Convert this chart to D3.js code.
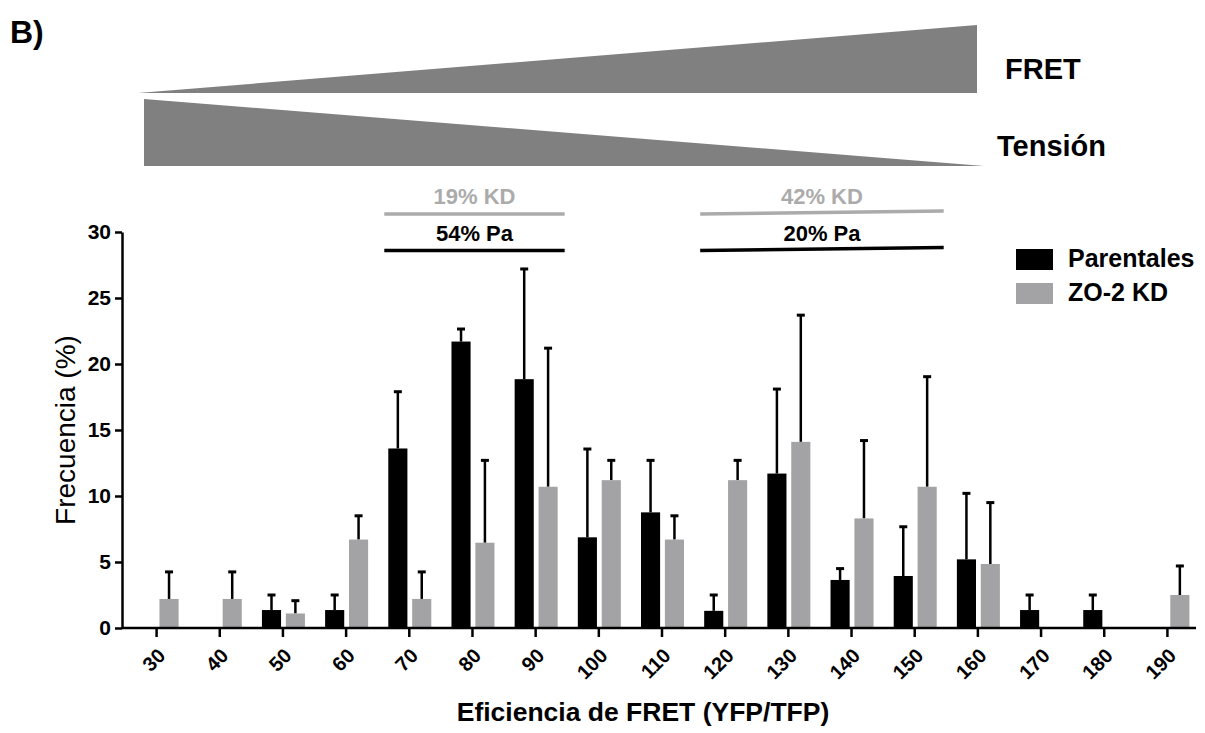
<!DOCTYPE html>
<html>
<head>
<meta charset="utf-8">
<script src="https://cdn.jsdelivr.net/npm/d3@7"></script>
<style>
  body { margin: 0; background: #fff; }
  svg { font-family: "Liberation Sans", Arial, sans-serif; }
</style>
</head>
<body>
<div id="chart"></div>
<script>
// bins of FRET efficiency
const cats = [30, 40, 50, 60, 70, 80, 90, 100, 110, 120, 130, 140, 150, 160, 170, 180, 190];
const series = ["Parentales", "ZO-2 KD"];
// mean frequency (%) and upper error (SEM) per bin
const parentales    = [0, 0, 1.36, 1.36, 13.6, 21.7, 18.85, 6.87, 8.76, 1.3, 11.7, 3.64, 3.94, 5.2, 1.36, 1.36, 0];
const parentalesErr = [0, 0, 1.14, 1.14, 4.3, 0.95, 8.35, 6.69, 3.94, 1.2, 6.4, 0.86, 3.73, 5.0, 1.14, 1.14, 0];
const kd            = [2.2, 2.2, 1.1, 6.7, 2.2, 6.46, 10.7, 11.2, 6.7, 11.2, 14.1, 8.3, 10.7, 4.85, 0, 0, 2.5];
const kdErr         = [2.05, 2.05, 0.97, 1.8, 2.05, 6.24, 10.5, 1.5, 1.8, 1.5, 9.6, 5.9, 8.34, 4.65, 0, 0, 2.2];
const yTicks = [0, 5, 10, 15, 20, 25, 30];
// range annotations: [from bin, to bin, label]
const kdRanges = [[70, 90, "19% KD"], [120, 150, "42% KD"]];
const paRanges = [[70, 90, "54% Pa"], [120, 150, "20% Pa"]];

const W = 1205, H = 733;
const colors = {"Parentales": "#000000", "ZO-2 KD": "#a3a3a6"};

const svg = d3.select("#chart").append("svg")
  .attr("width", W).attr("height", H);

// panel letter
svg.append("text")
  .attr("x", 10).attr("y", 43)
  .style("font-size", "32px").style("font-weight", "bold")
  .text("B)");

// ---- wedges on top ----
svg.append("path")
  .attr("d", "M138,93 L977,25 L977,93 Z")
  .attr("fill", "#808080");
svg.append("path")
  .attr("d", "M144,99 L984,166 L144,166 Z")
  .attr("fill", "#808080");
svg.append("text")
  .attr("x", 1005).attr("y", 79)
  .style("font-size", "29px").style("font-weight", "bold")
  .text("FRET");
svg.append("text")
  .attr("x", 997).attr("y", 156)
  .style("font-size", "29px").style("font-weight", "bold")
  .text("Tensión");

// ---- scales ----
const x = d3.scaleBand()
  .domain(cats)
  .range([125, 1199]);

const x1 = d3.scaleBand()
  .domain(series)
  .range([-21, 22])
  .paddingInner(0.2);

const y = d3.scaleLinear()
  .domain([0, 30])
  .range([628, 232]);

const xc = d => x(d) + x.bandwidth() / 2;
const x0 = 122;

// ---- bars ----
const rows = [];
cats.forEach((c, i) => {
  rows.push({cat: c, s: "Parentales", v: parentales[i], e: parentalesErr[i]});
  rows.push({cat: c, s: "ZO-2 KD", v: kd[i], e: kdErr[i]});
});

// error bars (drawn before the bars so the stem hides inside)
const errs = svg.append("g")
  .selectAll("g")
  .data(rows.filter(d => d.v > 0 && d.e > 0))
  .join("g");
errs.append("line")
  .attr("x1", d => xc(d.cat) + x1(d.s) + x1.bandwidth() / 2)
  .attr("x2", d => xc(d.cat) + x1(d.s) + x1.bandwidth() / 2)
  .attr("y1", d => y(d.v))
  .attr("y2", d => y(d.v + d.e))
  .attr("stroke", "#000")
  .attr("stroke-width", 2.5);
errs.append("line")
  .attr("x1", d => xc(d.cat) + x1(d.s) + x1.bandwidth() / 2 - 4)
  .attr("x2", d => xc(d.cat) + x1(d.s) + x1.bandwidth() / 2 + 4)
  .attr("y1", d => y(d.v + d.e))
  .attr("y2", d => y(d.v + d.e))
  .attr("stroke", "#000")
  .attr("stroke-width", 3);

svg.append("g")
  .selectAll("rect")
  .data(rows.filter(d => d.v > 0))
  .join("rect")
    .attr("x", d => xc(d.cat) + x1(d.s))
    .attr("y", d => y(d.v))
    .attr("width", x1.bandwidth())
    .attr("height", d => y(0) - y(d.v))
    .attr("fill", d => colors[d.s]);

// ---- axes ----
const yAxis = d3.axisLeft(y).tickValues(yTicks).tickSize(7).tickSizeOuter(0).tickPadding(4);
const gy = svg.append("g")
  .attr("transform", `translate(${x0},0)`)
  .call(yAxis);
gy.select(".domain").attr("stroke-width", 2.5);
gy.selectAll(".tick line").attr("stroke-width", 2.5);
gy.selectAll(".tick text")
  .style("font-size", "21px").style("font-weight", "bold")
  .attr("fill", "#000");

const xAxis = d3.axisBottom(x).tickSize(9).tickSizeOuter(0);
const gx = svg.append("g")
  .attr("transform", `translate(0,${y(0)})`)
  .call(xAxis);
gx.select(".domain").remove();
gx.append("line")
  .attr("x1", x0).attr("x2", 1196)
  .attr("stroke", "#000").attr("stroke-width", 2.5);
gx.selectAll(".tick line").attr("stroke-width", 2.5);
gx.selectAll(".tick text")
  .style("font-size", "20px").style("font-weight", "bold")
  .attr("fill", "#000")
  .attr("text-anchor", "end")
  .attr("x", 0).attr("y", 0).attr("dy", "0.35em")
  .attr("transform", "translate(5,24) rotate(-45)");

// axis titles
svg.append("text")
  .attr("transform", `translate(75,${y(15)}) rotate(-90)`)
  .attr("text-anchor", "middle")
  .style("font-size", "28px")
  .text("Frecuencia (%)");

svg.append("text")
  .attr("x", 643).attr("y", 721)
  .attr("text-anchor", "middle")
  .style("font-size", "26.5px").style("font-weight", "bold")
  .text("Eficiencia de FRET (YFP/TFP)");

// ---- range annotations ----
function bracket(list, lineY, textY, color, width, tilt) {
  list.forEach((r, k) => {
    const a = xc(r[0]) - 25, b = xc(r[1]) + 29;
    const t = k === 1 ? tilt : 0;
    svg.append("line")
      .attr("x1", a).attr("x2", b)
      .attr("y1", lineY).attr("y2", lineY - t)
      .attr("stroke", color).attr("stroke-width", width);
    svg.append("text")
      .attr("x", (a + b) / 2).attr("y", textY)
      .attr("text-anchor", "middle")
      .style("font-size", "22px").style("font-weight", "bold")
      .attr("fill", color)
      .text(r[2]);
  });
}
bracket(kdRanges, 214, 204, "#ababab", 3.5, 3);
bracket(paRanges, 250.5, 241, "#000", 3.5, 3);

// ---- legend ----
const leg = svg.append("g")
  .selectAll("g")
  .data(series)
  .join("g")
    .attr("transform", (d, i) => `translate(1016,${249 + i * 34})`);
leg.append("rect")
  .attr("width", 37).attr("height", 21)
  .attr("fill", d => colors[d]);
leg.append("text")
  .attr("x", 52).attr("y", 18)
  .style("font-size", "25px").style("font-weight", "bold")
  .text(d => d);
</script>
</body>
</html>
